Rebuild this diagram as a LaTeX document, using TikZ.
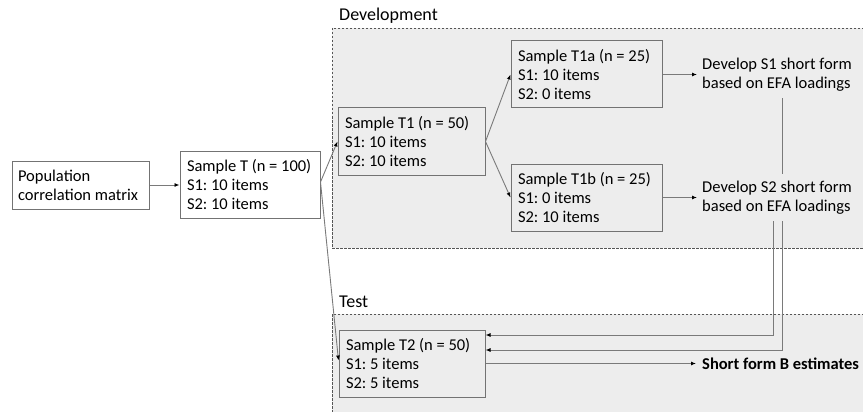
\documentclass[tikz,border=0pt]{standalone}
\usepackage{fontspec}
\setmainfont{Carlito}
\usetikzlibrary{arrows.meta,calc}
\definecolor{regionfill}{HTML}{EDEDED}
\definecolor{regionline}{HTML}{555555}
\definecolor{boxline}{HTML}{737373}
\definecolor{linkline}{HTML}{7A7A7A}
\frenchspacing
% left-aligned block of lines with a fixed width
\newcommand\leftlines[2]{\parbox{#1}{\raggedright #2}}
\begin{document}
\begin{tikzpicture}[x=1pt,y=-1pt,
  txt/.style={font=\fontsize{16.5}{19}\selectfont},
  lbl/.style={font=\fontsize{18}{21}\selectfont, anchor=west, inner sep=0pt},
  box/.style={draw=boxline, line width=1pt, rectangle,
    inner xsep=7pt, inner ysep=0pt, txt},
  region/.style={draw=regionline, dash pattern=on 2.5pt off 1.5pt,
    fill=regionfill, line width=0.7pt},
  link/.style={draw=linkline, line width=0.9pt,
    -{Latex[length=5pt,width=4pt,black]}},
  plainlink/.style={draw=linkline, line width=0.9pt},
]
\clip (0,0) rectangle (863,412);

% phase regions
\path[region] (332,28) rectangle (880,248);
\path[region] (332,314) rectangle (880,430);
\node[lbl] (devlabel) at (339,16) {Development};
\node[lbl] (testlabel) at (339,302) {Test};

% sample boxes
\node[box, inner xsep=6pt, minimum height=48pt] (pop) at (80.5,185)
  {\leftlines{125pt}{Population\\correlation matrix}};
\node[box, minimum height=67pt] (st) at (250,184.5)
  {\leftlines{126pt}{Sample T (n = 100)\\S1: 10 items\\S2: 10 items}};
\node[box, minimum height=67pt] (t1) at (411.5,141.5)
  {\leftlines{133pt}{Sample T1 (n = 50)\\S1: 10 items\\S2: 10 items}};
\node[box, minimum height=67pt] (t1a) at (586.5,74.5)
  {\leftlines{137pt}{Sample T1a (n = 25)\\S1: 10 items\\S2: 0 items}};
\node[box, minimum height=67pt] (t1b) at (586.5,197.5)
  {\leftlines{137pt}{Sample T1b (n = 25)\\S1: 0 items\\S2: 10 items}};
\node[box, minimum height=67pt] (t2) at (412,363.5)
  {\leftlines{132pt}{Sample T2 (n = 50)\\S1: 5 items\\S2: 5 items}};

% short form steps and result
\node[txt, anchor=west, inner xsep=5pt, inner ysep=0pt,
  minimum height=47pt] (dev1) at (697,74.5)
  {\leftlines{155pt}{Develop S1 short form\\based on EFA loadings}};
\node[txt, anchor=west, inner xsep=5pt, inner ysep=0pt,
  minimum height=47pt] (dev2) at (697,197.5)
  {\leftlines{155pt}{Develop S2 short form\\based on EFA loadings}};
\node[font={\fontsize{16.5}{19}\selectfont\bfseries},
  anchor=west, inner xsep=6pt, inner ysep=0pt] (sf) at (696,363.5)
  {Short form B estimates};

% connectors
\coordinate (vin) at (773,0);
\coordinate (vout) at (782,0);
\draw[link] (pop.east) -- (pop.east -| st.west);
\draw[link] ([yshift=2.5pt]st.east) -- (t1.west);
\draw[link] ([yshift=2.5pt]st.east) -- ([yshift=3pt]t2.west);
\draw[link] (t1.east) -- (t1a.west);
\draw[link] (t1.east) -- (t1b.west);
\draw[link] (t1a.east) -- (dev1.west);
\draw[link] (t1b.east) -- (dev2.west);
\draw[plainlink] (dev1.south -| vout) -- (dev2.north -| vout);
\draw[link] (dev2.south -| vin) |- ([yshift=28.5pt]t2.east);
\draw[link] (dev2.south -| vout) |- ([yshift=13.5pt]t2.east);
\draw[link] (t2.east) -- (sf.west);
\end{tikzpicture}
\end{document}
